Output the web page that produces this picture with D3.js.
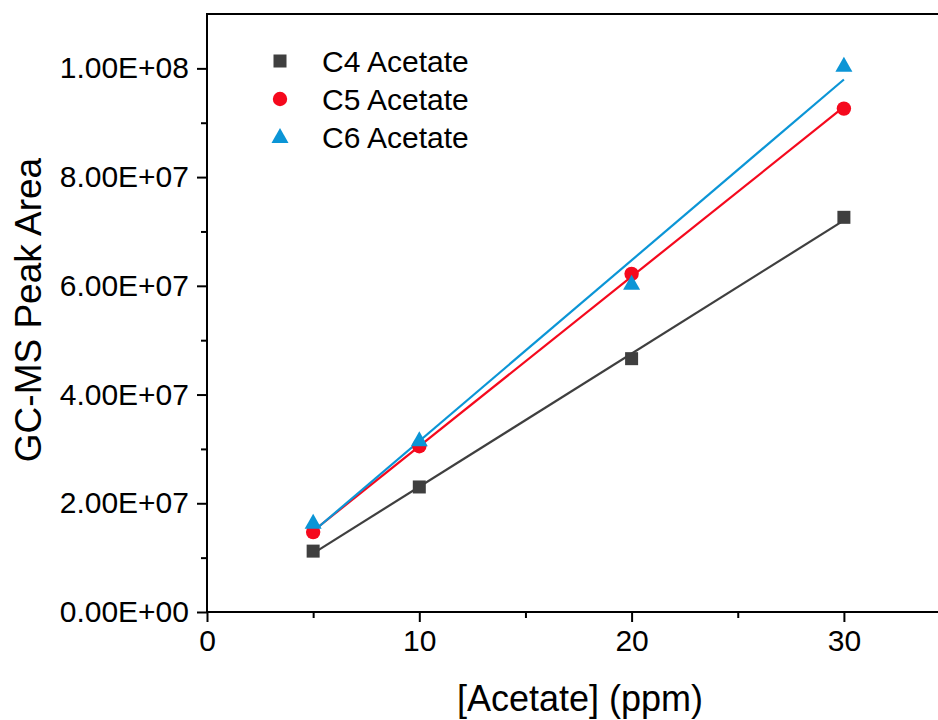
<!DOCTYPE html>
<html><head><meta charset="utf-8">
<script src="https://cdn.jsdelivr.net/npm/d3@7"></script>
<style>body{margin:0;background:#fff}svg{display:block}text{font-family:"Liberation Sans",Arial,sans-serif;fill:#000}</style>
</head><body>
<svg id="c" width="938" height="720"></svg>
<script>
const concentrations = [5, 10, 20, 30];
const c4Values = [1.12e7, 2.30e7, 4.66e7, 7.26e7];
const c5Values = [1.47e7, 3.05e7, 6.22e7, 9.26e7];
const c6Values = [1.64e7, 3.16e7, 6.04e7, 1.005e8];
const seriesNames = ["C4 Acetate", "C5 Acetate", "C6 Acetate"];
const xTicks = [0, 10, 20, 30];
const yTicks = [0, 2e7, 4e7, 6e7, 8e7, 1e8];
const yTickLabels = ["0.00E+00","2.00E+07","4.00E+07","6.00E+07","8.00E+07","1.00E+08"];

const colors = ["#3f3f3f", "#f5091d", "#0b95d6"];
const shapes = ["square", "circle", "triangle"];
const series = [c4Values, c5Values, c6Values].map((v,i)=>({name:seriesNames[i], values:v, color:colors[i], shape:shapes[i]}));

const svg = d3.select("#c");
const L = 207, T = 14, B = 612;
const x = d3.scaleLinear().domain([0, 35]).range([L, L + 35*21.23]);
const y = d3.scaleLinear().domain([0, 1.1e8]).range([B, T]);

function fit(xs, ys){
  const mx = d3.mean(xs), my = d3.mean(ys);
  let sxy=0, sxx=0;
  xs.forEach((xi,i)=>{sxy+=(xi-mx)*(ys[i]-my); sxx+=(xi-mx)**2;});
  const m = sxy/sxx; return {m, b: my - m*mx};
}
const g = svg.append("g");
series.forEach(s=>{
  const f = fit(concentrations, s.values);
  const x0 = d3.min(concentrations), x1 = d3.max(concentrations);
  g.append("line").attr("x1",x(x0)).attr("y1",y(f.m*x0+f.b)).attr("x2",x(x1)).attr("y2",y(f.m*x1+f.b))
    .attr("stroke",s.color).attr("stroke-width",2.2);
});

function marker(sel, shape, color){
  if(shape==="square") sel.append("rect").attr("x",-6.5).attr("y",-6.5).attr("width",13).attr("height",13).attr("fill",color);
  else if(shape==="circle") sel.append("circle").attr("r",7.2).attr("fill",color);
  else sel.append("path").attr("d","M0,-9L8.5,6L-8.5,6Z").attr("fill",color);
}
series.forEach(s=>{
  s.values.forEach((v,i)=>{
    const m = g.append("g").attr("transform",`translate(${x(concentrations[i])},${y(v)})`);
    marker(m, s.shape, s.color);
  });
});

const xAxis = d3.axisBottom(x).tickValues(xTicks).tickSize(10).tickPadding(8).tickFormat(d3.format("d"));
const xg = svg.append("g").attr("transform",`translate(0,${B})`).call(xAxis);
const yAxis = d3.axisLeft(y).tickValues(yTicks).tickSize(10).tickPadding(8).tickFormat((d,i)=>yTickLabels[i]);
const yg = svg.append("g").attr("transform",`translate(${L},0)`).call(yAxis);
[xg,yg].forEach(a=>{
  a.select(".domain").remove();
  a.selectAll(".tick line").attr("stroke","#000").attr("stroke-width",2);
  a.selectAll(".tick text").style("font-size","30px").attr("fill","#000");
});
svg.append("g").attr("transform",`translate(0,${B})`).call(d3.axisBottom(x).tickValues([5,15,25]).tickSize(6).tickFormat(""))
  .call(a=>{a.select(".domain").remove(); a.selectAll(".tick line").attr("stroke","#000").attr("stroke-width",2);});
svg.append("g").attr("transform",`translate(${L},0)`).call(d3.axisLeft(y).tickValues([1e7,3e7,5e7,7e7,9e7]).tickSize(6).tickFormat(""))
  .call(a=>{a.select(".domain").remove(); a.selectAll(".tick line").attr("stroke","#000").attr("stroke-width",2);});

svg.append("line").attr("x1",L).attr("x2",938).attr("y1",B).attr("y2",B).attr("stroke","#000").attr("stroke-width",2);
svg.append("line").attr("x1",L).attr("x2",938).attr("y1",T).attr("y2",T).attr("stroke","#000").attr("stroke-width",2);
svg.append("line").attr("x1",L).attr("x2",L).attr("y1",T-1).attr("y2",B+1).attr("stroke","#000").attr("stroke-width",2);

svg.append("text").attr("x",580).attr("y",711).attr("text-anchor","middle").style("font-size","36px").text("[Acetate] (ppm)");
svg.append("text").attr("transform","translate(41,310) rotate(-90)").attr("text-anchor","middle").style("font-size","37px").text("GC-MS Peak Area");

series.forEach((s,i)=>{
  const ly = 61 + i*38;
  const m = svg.append("g").attr("transform",`translate(280,${ly})`);
  marker(m, s.shape, s.color);
  svg.append("text").attr("x",322).attr("y",ly+11).style("font-size","30px").text(s.name);
});
</script>
</body></html>
